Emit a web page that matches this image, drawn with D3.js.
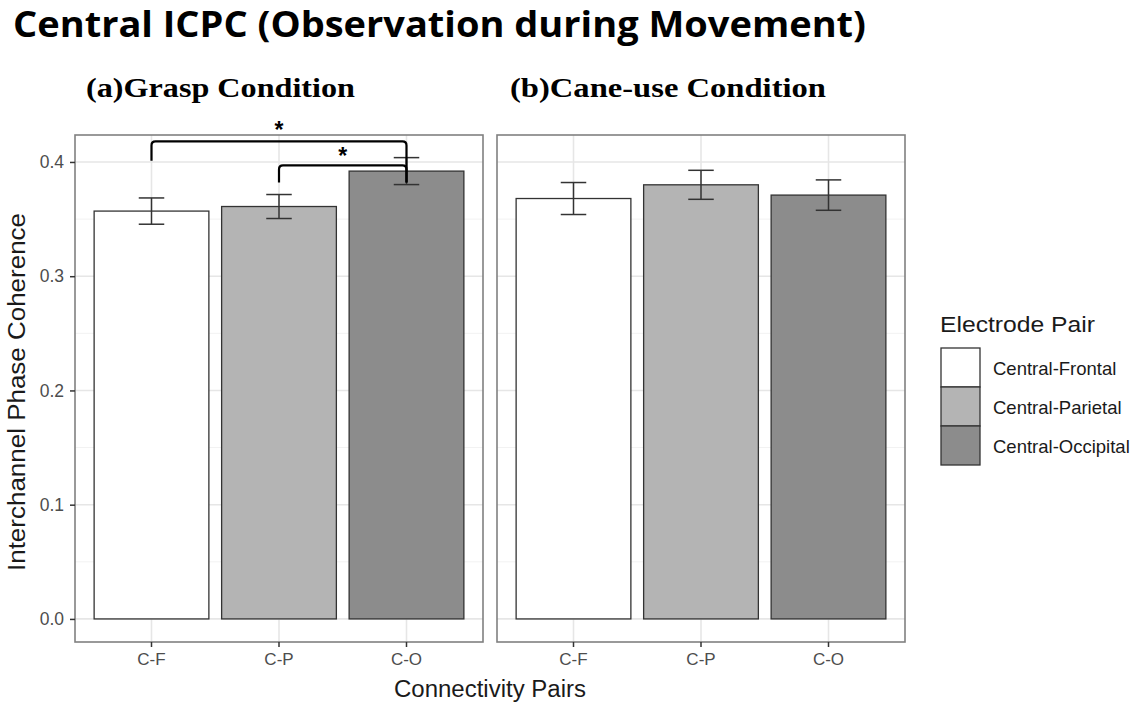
<!DOCTYPE html>
<html>
<head>
<meta charset="utf-8">
<script src="https://cdn.jsdelivr.net/npm/d3@7"></script>
<style>
  html, body { margin: 0; padding: 0; background: #fff; }
  svg { display: block; }
</style>
</head>
<body>
<svg id="chart" width="1146" height="704"></svg>
<script>
// Connectivity pairs on the x axis and the electrode-pair names for the legend
const pairs = ["C-F", "C-P", "C-O"];
const pairNames = ["Central-Frontal", "Central-Parietal", "Central-Occipital"];
const fills = ["#ffffff", "#b4b4b4", "#8c8c8c"];

// Panel titles
const conditions = ["(a)Grasp Condition", "(b)Cane-use Condition"];

// Mean ICPC and standard error per condition, in pair order
const graspMean = [0.357, 0.361, 0.392];
const graspSE   = [0.0115, 0.0105, 0.0118];
const caneMean  = [0.368, 0.380, 0.371];
const caneSE    = [0.0140, 0.0127, 0.0133];

// Y axis ticks
const yTicks = [0.0, 0.1, 0.2, 0.3, 0.4];
const yMinor = [0.05, 0.15, 0.25, 0.35];

// Significance brackets in the grasp panel: [from, to, top, left foot, right foot]
const brackets = [
  { from: "C-F", to: "C-O", top: 0.418, leftEnd: 0.401, rightEnd: 0.382, label: "*", labelY: 0.432 },
  { from: "C-P", to: "C-O", top: 0.397, leftEnd: 0.382, rightEnd: 0.382, label: "*", labelY: 0.410 }
];

const svg = d3.select("#chart");
const sans = "'Liberation Sans', Arial, sans-serif";

// Shared scales
const panelTop = 135, panelBottom = 642;
const y = d3.scaleLinear().domain([-0.0202, 0.4236]).range([panelBottom, panelTop]);
const panels = [
  { x0: 75, x1: 483, mean: graspMean, se: graspSE, title: conditions[0] },
  { x0: 497, x1: 905, mean: caneMean, se: caneSE, title: conditions[1] }
];

// Main title
svg.append("text")
  .attr("x", 13).attr("y", 37)
  .attr("font-family", "'Open Sans', 'Noto Sans', sans-serif")
  .attr("font-weight", 700)
  .attr("font-size", 35)
  .attr("textLength", 853)
  .attr("lengthAdjust", "spacingAndGlyphs")
  .attr("fill", "#000")
  .text("Central ICPC (Observation during Movement)");

panels.forEach((p, pi) => {
  const x = d3.scaleBand().domain(pairs).range([p.x0, p.x1]).paddingInner(0.1).paddingOuter(0.15);
  const g = svg.append("g");

  // Panel title
  svg.append("text")
    .attr("x", pi === 0 ? 86 : 510).attr("y", 97)
    .attr("font-family", "'Liberation Serif', 'DejaVu Serif', serif")
    .attr("font-weight", 700)
    .attr("font-size", 27)
    .attr("textLength", pi === 0 ? 269 : 316)
    .attr("lengthAdjust", "spacingAndGlyphs")
    .attr("fill", "#000")
    .text(p.title);

  // Grid lines
  g.selectAll("line.minor").data(yMinor).join("line")
    .attr("x1", p.x0).attr("x2", p.x1)
    .attr("y1", d => y(d)).attr("y2", d => y(d))
    .attr("stroke", "#f2f2f2").attr("stroke-width", 1);
  g.selectAll("line.major").data(yTicks).join("line")
    .attr("x1", p.x0).attr("x2", p.x1)
    .attr("y1", d => y(d)).attr("y2", d => y(d))
    .attr("stroke", "#e6e6e6").attr("stroke-width", 1.6);
  g.selectAll("line.vgrid").data(pairs).join("line")
    .attr("x1", d => x(d) + x.bandwidth() / 2).attr("x2", d => x(d) + x.bandwidth() / 2)
    .attr("y1", panelTop).attr("y2", panelBottom)
    .attr("stroke", "#e6e6e6").attr("stroke-width", 1.6);

  // Bars
  g.selectAll("rect.bar").data(pairs).join("rect")
    .attr("x", d => x(d)).attr("width", x.bandwidth())
    .attr("y", (d, i) => y(p.mean[i]))
    .attr("height", (d, i) => y(0) - y(p.mean[i]))
    .attr("fill", (d, i) => fills[i])
    .attr("stroke", "#333").attr("stroke-width", 1.3);

  // Error bars (mean ± SE)
  const capW = x.step() * 0.2;
  pairs.forEach((d, i) => {
    const cx = x(d) + x.bandwidth() / 2;
    const lo = y(p.mean[i] - p.se[i]), hi = y(p.mean[i] + p.se[i]);
    const eb = g.append("g").attr("stroke", "#333").attr("stroke-width", 1.5).attr("fill", "none");
    eb.append("line").attr("x1", cx).attr("x2", cx).attr("y1", lo).attr("y2", hi);
    eb.append("line").attr("x1", cx - capW / 2).attr("x2", cx + capW / 2).attr("y1", lo).attr("y2", lo);
    eb.append("line").attr("x1", cx - capW / 2).attr("x2", cx + capW / 2).attr("y1", hi).attr("y2", hi);
  });

  // Panel border
  g.append("rect")
    .attr("x", p.x0).attr("y", panelTop)
    .attr("width", p.x1 - p.x0).attr("height", panelBottom - panelTop)
    .attr("fill", "none").attr("stroke", "#808080").attr("stroke-width", 1.6);

  // X axis
  const xAxis = svg.append("g")
    .attr("transform", `translate(0,${panelBottom})`)
    .call(d3.axisBottom(x).tickSize(5).tickPadding(6));
  xAxis.select(".domain").remove();
  xAxis.selectAll(".tick line").attr("stroke", "#333").attr("stroke-width", 1.5);
  xAxis.selectAll(".tick text")
    .attr("font-family", sans).attr("font-size", 17).attr("fill", "#4d4d4d");

  // Significance brackets on the grasp panel
  if (pi === 0) {
    brackets.forEach(b => {
      const xa = x(b.from) + x.bandwidth() / 2;
      const xb = x(b.to) + x.bandwidth() / 2;
      const r = 4;
      const path = d3.path();
      path.moveTo(xa, y(b.leftEnd));
      path.lineTo(xa, y(b.top) + r);
      path.quadraticCurveTo(xa, y(b.top), xa + r, y(b.top));
      path.lineTo(xb - r, y(b.top));
      path.quadraticCurveTo(xb, y(b.top), xb, y(b.top) + r);
      path.lineTo(xb, y(b.rightEnd));
      svg.append("path")
        .attr("d", path.toString())
        .attr("fill", "none").attr("stroke", "#000").attr("stroke-width", 2.2);
      svg.append("text")
        .attr("x", (xa + xb) / 2).attr("y", y(b.labelY) + 13)
        .attr("text-anchor", "middle")
        .attr("font-family", sans).attr("font-weight", 700).attr("font-size", 23)
        .attr("fill", "#000")
        .text(b.label);
    });
  }
});

// Y axis on the left panel
const yAxis = svg.append("g")
  .attr("transform", `translate(${panels[0].x0},0)`)
  .call(d3.axisLeft(y).tickValues(yTicks).tickFormat(d3.format(".1f")).tickSize(5).tickPadding(6));
yAxis.select(".domain").remove();
yAxis.selectAll(".tick line").attr("stroke", "#333").attr("stroke-width", 1.5);
yAxis.selectAll(".tick text")
  .attr("font-family", sans).attr("font-size", 17.5).attr("fill", "#4d4d4d");

// Axis titles
svg.append("text")
  .attr("transform", "translate(25,392) rotate(-90)")
  .attr("text-anchor", "middle")
  .attr("font-family", sans).attr("font-size", 23)
  .attr("textLength", 358).attr("lengthAdjust", "spacingAndGlyphs")
  .attr("fill", "#1a1a1a")
  .text("Interchannel Phase Coherence");

svg.append("text")
  .attr("x", 490).attr("y", 697)
  .attr("text-anchor", "middle")
  .attr("font-family", sans).attr("font-size", 23)
  .attr("textLength", 192).attr("lengthAdjust", "spacingAndGlyphs")
  .attr("fill", "#1a1a1a")
  .text("Connectivity Pairs");

// Legend
const legend = svg.append("g");
legend.append("text")
  .attr("x", 940).attr("y", 332)
  .attr("font-family", sans).attr("font-size", 22)
  .attr("textLength", 155).attr("lengthAdjust", "spacingAndGlyphs")
  .attr("fill", "#1a1a1a")
  .text("Electrode Pair");
const keyH = 39, keyTop = 348;
pairNames.forEach((name, i) => {
  legend.append("rect")
    .attr("x", 941).attr("y", keyTop + i * keyH)
    .attr("width", 39).attr("height", keyH)
    .attr("fill", fills[i]).attr("stroke", "#333").attr("stroke-width", 1.3);
  legend.append("text")
    .attr("x", 993).attr("y", keyTop + i * keyH + keyH / 2 + 7)
    .attr("font-family", sans).attr("font-size", 18.5)
    .attr("fill", "#1a1a1a")
    .text(name);
});
</script>
</body>
</html>
